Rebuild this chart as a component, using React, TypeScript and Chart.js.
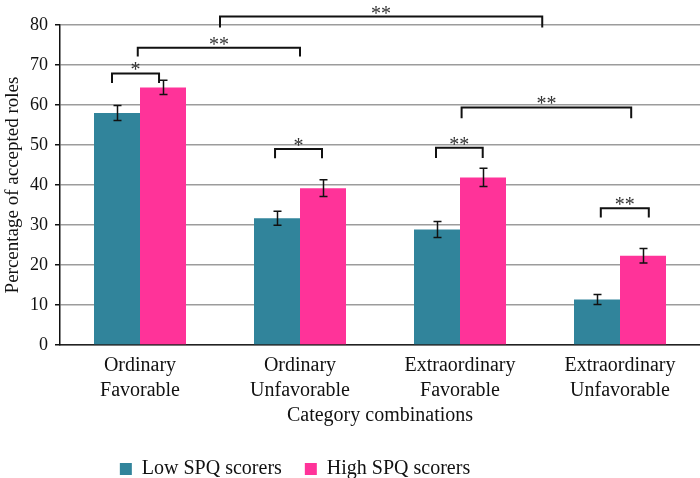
import React, { useEffect, useRef } from "react";
import { Chart, registerables } from "chart.js";

Chart.register(...registerables);

const categories: string[][] = [
  ["Ordinary", "Favorable"],
  ["Ordinary", "Unfavorable"],
  ["Extraordinary", "Favorable"],
  ["Extraordinary", "Unfavorable"],
];
const lowValues = [58.0, 31.7, 28.9, 11.4];
const highValues = [64.4, 39.2, 41.9, 22.3];
const lowErrors = [1.9, 1.75, 2.0, 1.25];
const highErrors = [1.8, 2.1, 2.3, 1.8];
const yTicks = [0, 10, 20, 30, 40, 50, 60, 70, 80];

// significance brackets (x in category-index units, y in data units)
const bracketFrom = [-0.175, -0.014, 0.5, 0.844, 1.85, 2.01, 2.88];
const bracketTo = [0.119, 1.0, 2.514, 1.1375, 2.142, 3.07, 3.18];
const bracketTop = [67.9, 74.3, 82.1, 49.0, 49.3, 59.4, 34.2];
const bracketLeg = [65.5, 72.1, 79.4, 46.7, 46.75, 56.7, 31.9];
const bracketLabel = ["*", "**", "**", "*", "**", "**", "**"];

const FONT = '"Liberation Serif", "Times New Roman", serif';
const TEAL = "#31849B";
const PINK = "#FF3399";

const overlayPlugin = {
  id: "overlay",
  afterLayout(chart: any) {
    if (chart.legend) {
      chart.legend.right -= 110;
    }
  },
  afterDatasetsDraw(chart: any) {
    const ctx = chart.ctx;
    const x = chart.scales.x;
    const y = chart.scales.y;
    const errs = [lowErrors, highErrors];
    ctx.save();
    // error bars
    ctx.strokeStyle = "#111";
    ctx.lineWidth = 1.5;
    chart.data.datasets.forEach((ds: any, di: number) => {
      const meta = chart.getDatasetMeta(di);
      meta.data.forEach((bar: any, i: number) => {
        const v = ds.data[i];
        const e = errs[di][i];
        const yt = y.getPixelForValue(v + e);
        const yb = y.getPixelForValue(v - e);
        const cx = Math.round(bar.x) + 0.5;
        ctx.beginPath();
        ctx.moveTo(cx, yt);
        ctx.lineTo(cx, yb);
        ctx.moveTo(cx - 4, yt);
        ctx.lineTo(cx + 4, yt);
        ctx.moveTo(cx - 4, yb);
        ctx.lineTo(cx + 4, yb);
        ctx.stroke();
      });
    });
    // brackets
    ctx.lineWidth = 2;
    ctx.strokeStyle = "#111";
    ctx.font = "20px " + FONT;
    ctx.textAlign = "center";
    ctx.textBaseline = "alphabetic";
    ctx.fillStyle = "#333";
    for (let i = 0; i < bracketFrom.length; i++) {
      const x1 = x.getPixelForValue(bracketFrom[i]);
      const x2 = x.getPixelForValue(bracketTo[i]);
      const yt = y.getPixelForValue(bracketTop[i]);
      const yl = y.getPixelForValue(bracketLeg[i]);
      ctx.beginPath();
      ctx.moveTo(x1, yl);
      ctx.lineTo(x1, yt);
      ctx.lineTo(x2, yt);
      ctx.lineTo(x2, yl);
      ctx.stroke();
      const m = ctx.measureText(bracketLabel[i]);
      const d = -m.actualBoundingBoxDescent;
      ctx.fillText(bracketLabel[i], (x1 + x2) / 2, yt - 3 + d);
    }
    ctx.restore();
  },
};

export default function App() {
  const ref = useRef<HTMLCanvasElement>(null);
  useEffect(() => {
    document.body.style.margin = "0";
    const chart = new Chart(ref.current!, {
      type: "bar",
      data: {
        labels: categories,
        datasets: [
          {
            label: "Low SPQ scorers",
            data: lowValues,
            backgroundColor: TEAL,
            categoryPercentage: 0.575,
            barPercentage: 1.0,
          },
          {
            label: "High SPQ scorers",
            data: highValues,
            backgroundColor: PINK,
            categoryPercentage: 0.575,
            barPercentage: 1.0,
          },
        ],
      },
      options: {
        responsive: false,
        animation: false,
        layout: { padding: { top: 25, right: 0, left: 0, bottom: -11 } },
        plugins: {
          tooltip: { enabled: false },
          legend: {
            position: "bottom",
            labels: {
              boxWidth: 12,
              boxHeight: 12,
              padding: 23,
              color: "#111",
              font: { family: FONT, size: 20 },
            },
          },
        },
        scales: {
          x: {
            grid: { display: false, drawTicks: false },
            border: { display: true, color: "#222", width: 1.5 },
            ticks: {
              color: "#111",
              padding: 8,
              maxRotation: 0,
              font: { family: FONT, size: 20, lineHeight: 1.25 },
            },
            title: {
              display: true,
              text: "Category combinations",
              color: "#111",
              padding: { top: -7, bottom: 8 },
              font: { family: FONT, size: 20 },
            },
          },
          y: {
            min: 0,
            max: 80,
            afterBuildTicks: (s: any) => {
              s.ticks = yTicks.map((v) => ({ value: v }));
            },
            afterFit: (s: any) => {
              s.width = 60;
            },
            grid: {
              color: "#9c9c9c",
              lineWidth: 1.5,
              tickLength: 5,
              tickColor: "#111",
            },
            border: { display: true, color: "#111", width: 1.5 },
            ticks: {
              color: "#111",
              padding: 7,
              font: { family: FONT, size: 18 },
            },
            title: {
              display: true,
              text: "Percentage of accepted roles",
              color: "#111",
              padding: { top: 2, bottom: 0 },
              font: { family: FONT, size: 19 },
            },
          },
        },
      },
      plugins: [overlayPlugin],
    } as any);
    return () => chart.destroy();
  }, []);
  return (
    <div style={{ width: 700, height: 478 }}>
      <canvas ref={ref} width={700} height={478} />
    </div>
  );
}
